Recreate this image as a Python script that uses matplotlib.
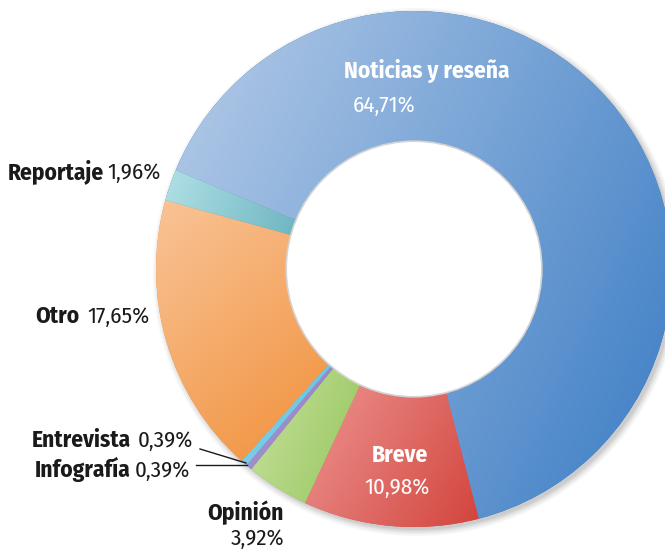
import numpy as np
import matplotlib
matplotlib.use("Agg")
import matplotlib.pyplot as plt
from matplotlib.colors import to_rgb
from matplotlib.patches import Circle

# ---- data ----
categories = ["Noticias y reseña", "Breve", "Opinión", "Infografía", "Entrevista", "Otro", "Reportaje"]
values = [64.71, 10.98, 3.92, 0.39, 0.39, 17.65, 1.96]
value_labels = ["64,71%", "10,98%", "3,92%", "0,39%", "0,39%", "17,65%", "1,96%"]

# gradient colours (light, dark) per slice and gradient direction (degrees)
grad_colors = [("#b6cce8", "#3a7cc4"), ("#f5a9a8", "#d2443c"), ("#d2e8ae", "#86bc46"),
               ("#a99ad0", "#8a78bc"), ("#8ad6ee", "#4cb8e0"), ("#f9c497", "#f0872a"),
               ("#b2e0e6", "#3592a2")]
grad_dirs = [-25, -30, -20, -20, -20, -50, -20]

W, H = 665, 554
fig = plt.figure(figsize=(W / 100, H / 100), dpi=100)
ax = fig.add_axes([0, 0, 1, 1])

cx, cy_pix = 414, 269
cy = H - cy_pix
R = 258
r_in = 127

# soft shadow
for i, a in enumerate([0.03, 0.03, 0.04, 0.05, 0.06]):
    ax.add_patch(Circle((cx + 3, cy - 3), R + 6 - i * 1.5, color="#000000", alpha=a, lw=0, zorder=0))

wedges, _ = ax.pie(values, startangle=157.5, counterclock=False, center=(cx, cy), radius=R,
                   wedgeprops=dict(width=R - r_in, linewidth=0), frame=True)

def gradient_fill(wedge, c1, c2, ang):
    verts = wedge.get_path().vertices
    x0, y0 = verts.min(axis=0)
    x1, y1 = verts.max(axis=0)
    xs = np.linspace(x0, x1, 200)
    ys = np.linspace(y1, y0, 200)
    X, Yg = np.meshgrid(xs, ys)
    d = np.array([np.cos(np.radians(ang)), np.sin(np.radians(ang))])
    proj = X * d[0] + Yg * d[1]
    t = (proj - proj.min()) / (proj.max() - proj.min() + 1e-9)
    a = np.array(to_rgb(c1)); b = np.array(to_rgb(c2))
    img = a[None, None, :] * (1 - t[..., None]) + b[None, None, :] * t[..., None]
    im = ax.imshow(img, extent=(x0, x1, y0, y1), zorder=2, interpolation="bilinear", aspect="auto")
    im.set_clip_path(wedge)

for w, (c1, c2), ang in zip(wedges, grad_colors, grad_dirs):
    w.set_facecolor(c2)
    w.set_zorder(1)
    gradient_fill(w, c1, c2, ang)

# inner hole rim
ax.add_patch(Circle((cx, cy), r_in + 0.8, facecolor="white", edgecolor="#d4d4d4", lw=1.2, zorder=3))

ax.set_xlim(0, W)
ax.set_ylim(0, H)
ax.set_aspect("auto")
ax.axis("off")

FAM = ["Fira Sans Condensed", "DejaVu Sans"]
bold = dict(family=FAM, fontweight="bold", fontsize=16.8)
light = dict(family=FAM, fontweight="normal", fontsize=16.5)
dark = "#1a1a1a"

def Y(p):
    return H - p

def txt(x, y, s, color, ha, style):
    ax.text(x, Y(y), s, color=color, ha=ha, va="baseline", zorder=5, **style)

# Noticias y reseña
txt(426.5, 78, categories[0], "white", "center", bold)
txt(353, 112, value_labels[0], "white", "left", light)
# Breve
txt(400, 462, categories[1], "white", "center", bold)
txt(397, 494, value_labels[1], "white", "center", light)
# Opinión
txt(284, 520, categories[2], dark, "right", bold)
txt(284, 545, value_labels[2], dark, "right", light)
# Reportaje
txt(8, 179, categories[6], dark, "left", bold)
txt(107, 179, value_labels[6], dark, "left", light)
# Otro
txt(35, 323, categories[5], dark, "left", bold)
txt(87, 323, value_labels[5], dark, "left", light)
# Entrevista
txt(32, 447, categories[4], dark, "left", bold)
txt(138, 447, value_labels[4], dark, "left", light)
# Infografía
txt(35, 477, categories[3], dark, "left", bold)
txt(135, 477, value_labels[3], dark, "left", light)

# leader lines
ax.plot([200, 246], [Y(449), Y(463)], color=dark, lw=1, zorder=5)
ax.plot([196, 247], [Y(465), Y(465)], color=dark, lw=1, zorder=5)

fig.savefig("out.png", dpi=100)
